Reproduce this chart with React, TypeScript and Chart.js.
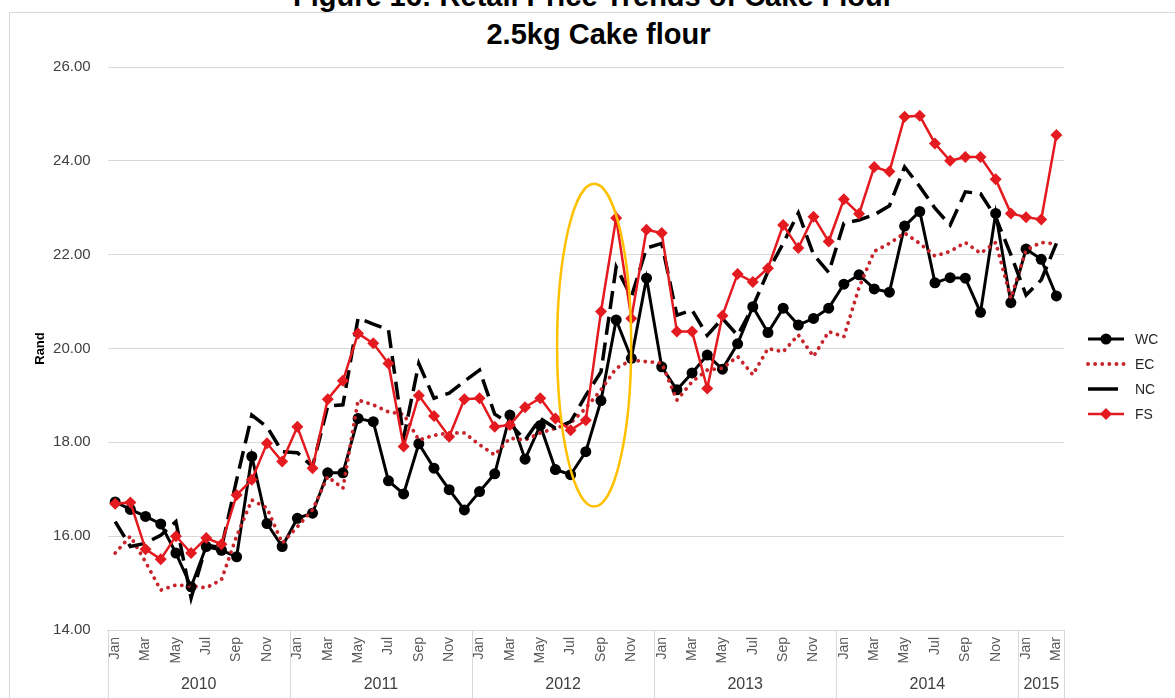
import React, { useEffect, useRef } from 'react';
import { Chart, registerables } from 'chart.js';

Chart.register(...registerables);

const FONT = '"Liberation Sans", Arial, Helvetica, sans-serif';

const FIGURE_TITLE = 'Figure 16: Retail Price Trends of Cake Flour';
const CHART_TITLE = '2.5kg Cake flour';
const Y_TITLE = 'Rand';

const MONTHS = ['Jan', 'Feb', 'Mar', 'Apr', 'May', 'Jun', 'Jul', 'Aug', 'Sep', 'Oct', 'Nov', 'Dec'];
const YEARS = ['2010', '2011', '2012', '2013', '2014', '2015'];
const MONTHS_IN_YEAR = [12, 12, 12, 12, 12, 3];

const Y_MIN = 14;
const Y_MAX = 26;
const Y_STEP = 2;

const WC = [
  16.73, 16.57, 16.42, 16.26, 15.64, 14.92, 15.78, 15.70, 15.56, 17.70, 16.27, 15.78,
  16.38, 16.49, 17.35, 17.35, 18.51, 18.44, 17.18, 16.90, 17.97, 17.45, 16.99, 16.56,
  16.95, 17.33, 18.58, 17.64, 18.36, 17.42, 17.31, 17.80, 18.89, 20.61, 19.79, 21.50,
  19.61, 19.12, 19.48, 19.86, 19.56, 20.10, 20.89, 20.34, 20.86, 20.50, 20.64, 20.86,
  21.37, 21.57, 21.27, 21.20, 22.61, 22.92, 21.40, 21.51, 21.50, 20.77, 22.88, 20.98,
  22.12, 21.90, 21.12,
];

const EC = [
  15.64, 16.00, 15.45, 14.85, 14.96, 14.94, 14.90, 15.07, 16.00, 16.77, 16.60, 15.85,
  16.20, 16.56, 17.27, 17.02, 18.90, 18.80, 18.65, 18.60, 18.05, 18.15, 18.20, 18.20,
  17.95, 17.73, 18.09, 18.05, 18.20, 18.30, 18.41, 18.73, 19.12, 19.58, 19.75, 19.72,
  19.69, 18.90, 19.29, 19.54, 19.58, 19.83, 19.44, 20.00, 19.93, 20.29, 19.83, 20.36,
  20.25, 21.30, 22.07, 22.24, 22.46, 22.24, 21.97, 22.07, 22.26, 22.03, 22.26, 21.07,
  22.10, 22.26, 22.23,
];

const NC = [
  16.31, 15.78, 15.85, 16.02, 16.31, 14.68, 15.81, 15.75, 17.20, 18.58, 18.33, 17.80,
  17.78, 17.48, 18.77, 18.80, 20.65, 20.52, 20.40, 18.10, 19.68, 18.94, 19.05, 19.30,
  19.54, 18.60, 18.40, 18.05, 18.51, 18.30, 18.44, 19.00, 19.50, 21.74, 21.10, 22.14,
  22.24, 20.71, 20.82, 20.28, 20.64, 20.28, 20.89, 21.64, 22.24, 22.89, 22.00, 21.62,
  22.67, 22.74, 22.85, 23.04, 23.87, 23.45, 22.99, 22.63, 23.34, 23.30, 22.80, 22.00,
  21.14, 21.46, 22.24,
];

const FS = [
  16.69, 16.72, 15.72, 15.51, 16.00, 15.64, 15.96, 15.83, 16.88, 17.20, 17.98, 17.59,
  18.33, 17.45, 18.92, 19.31, 20.32, 20.11, 19.68, 17.91, 19.00, 18.56, 18.12, 18.92,
  18.94, 18.33, 18.37, 18.75, 18.94, 18.51, 18.26, 18.47, 20.79, 22.78, 20.64, 22.53,
  22.46, 20.36, 20.36, 19.15, 20.70, 21.59, 21.42, 21.71, 22.63, 22.14, 22.81, 22.28,
  23.18, 22.87, 23.87, 23.77, 24.94, 24.96, 24.37, 24.00, 24.08, 24.08, 23.61, 22.88,
  22.80, 22.75, 24.55,
];

// highlight ellipse around Aug-Sep 2012 (in category index / value units)
const HIGHLIGHT_CENTER_INDEX = 31.55;
const HIGHLIGHT_CENTER_VALUE = 20.07;
const HIGHLIGHT_HALF_INDEX = 2.44;
const HIGHLIGHT_HALF_VALUE = 3.44;

const LABELS: string[] = [];
YEARS.forEach((yr, k) => {
  for (let m = 0; m < MONTHS_IN_YEAR[k]; m++) LABELS.push(MONTHS[m] + ' ' + yr);
});

const yearAxisPlugin = {
  id: 'yearAxis',
  afterDraw(chart: any) {
    const { ctx, chartArea } = chart;
    const x = chart.scales.x;
    const step = x.getPixelForValue(1) - x.getPixelForValue(0);
    const top = chartArea.bottom;
    const bottom = chart.height;
    ctx.save();
    ctx.strokeStyle = '#d9d9d9';
    ctx.lineWidth = 1;
    ctx.fillStyle = '#404040';
    ctx.font = '16px ' + FONT;
    ctx.textAlign = 'center';
    ctx.textBaseline = 'middle';
    let start = 0;
    ctx.beginPath();
    YEARS.forEach((yr, k) => {
      const n = MONTHS_IN_YEAR[k];
      const left = x.getPixelForValue(start) - step / 2;
      const right = x.getPixelForValue(start + n - 1) + step / 2;
      const lx = Math.round(left) + 0.5;
      ctx.moveTo(lx, top);
      ctx.lineTo(lx, bottom);
      if (k === YEARS.length - 1) {
        const rx = Math.round(right) + 0.5;
        ctx.moveTo(rx, top);
        ctx.lineTo(rx, bottom);
      }
      ctx.fillText(yr, (left + right) / 2, top + 55);
      start += n;
    });
    ctx.stroke();
    ctx.restore();
  },
};

const highlightPlugin = {
  id: 'highlight',
  afterDatasetsDraw(chart: any) {
    const { ctx } = chart;
    const x = chart.scales.x;
    const y = chart.scales.y;
    const step = x.getPixelForValue(1) - x.getPixelForValue(0);
    const cx = x.getPixelForValue(0) + HIGHLIGHT_CENTER_INDEX * step;
    const cy = y.getPixelForValue(HIGHLIGHT_CENTER_VALUE);
    const rx = HIGHLIGHT_HALF_INDEX * step;
    const ry = Math.abs(y.getPixelForValue(HIGHLIGHT_CENTER_VALUE + HIGHLIGHT_HALF_VALUE) - cy);
    ctx.save();
    ctx.beginPath();
    ctx.ellipse(cx, cy, rx, ry, 0, 0, Math.PI * 2);
    ctx.strokeStyle = '#FFC000';
    ctx.lineWidth = 2.5;
    ctx.stroke();
    ctx.restore();
  },
};

function drawMarker(ctx: CanvasRenderingContext2D, style: string, x: number, y: number, r: number, color: string) {
  ctx.beginPath();
  if (style === 'rectRot') {
    ctx.moveTo(x, y - r);
    ctx.lineTo(x + r, y);
    ctx.lineTo(x, y + r);
    ctx.lineTo(x - r, y);
    ctx.closePath();
  } else {
    ctx.arc(x, y, r, 0, Math.PI * 2);
  }
  ctx.fillStyle = color;
  ctx.fill();
}

const legendPlugin = {
  id: 'customLegend',
  afterDraw(chart: any) {
    const { ctx, chartArea } = chart;
    const x0 = chartArea.right + 24;
    const x1 = chartArea.right + 60;
    const tx = chartArea.right + 71;
    ctx.save();
    chart.data.datasets.forEach((ds: any, i: number) => {
      const yy = chartArea.top + 272 + i * 25;
      ctx.beginPath();
      ctx.strokeStyle = ds.borderColor;
      ctx.lineWidth = ds.borderWidth;
      ctx.lineCap = ds.borderCapStyle || 'butt';
      const dash = ds.borderDash || [];
      ctx.setLineDash(dash.length && dash[0] > 10 ? [30, 10] : dash);
      ctx.moveTo(x0, yy);
      ctx.lineTo(x1, yy);
      ctx.stroke();
      ctx.setLineDash([]);
      if (ds.pointRadius > 0) drawMarker(ctx, ds.pointStyle, (x0 + x1) / 2, yy, ds.pointRadius, ds.borderColor);
      ctx.fillStyle = '#262626';
      ctx.font = '14px ' + FONT;
      ctx.textAlign = 'left';
      ctx.textBaseline = 'middle';
      ctx.fillText(ds.label, tx, yy + 1);
    });
    ctx.restore();
  },
};

export default function App() {
  const canvasRef = useRef<HTMLCanvasElement>(null);

  useEffect(() => {
    Chart.defaults.font.family = FONT;
    const chart = new Chart(canvasRef.current as HTMLCanvasElement, {
      type: 'line',
      data: {
        labels: LABELS,
        datasets: [
          {
            label: 'WC', data: WC, borderColor: '#000000', backgroundColor: '#000000',
            borderWidth: 3, pointStyle: 'circle', pointRadius: 5.5, pointBackgroundColor: '#000000',
            pointBorderColor: '#000000', pointBorderWidth: 0, order: 4,
          },
          {
            label: 'EC', data: EC, borderColor: '#c8242b', backgroundColor: '#c8242b',
            borderWidth: 3.8, borderDash: [0.1, 7], borderCapStyle: 'round', pointRadius: 0, order: 3,
          },
          {
            label: 'NC', data: NC, borderColor: '#000000', backgroundColor: '#000000',
            borderWidth: 3.5, borderDash: [18, 8], pointRadius: 0, order: 2,
          },
          {
            label: 'FS', data: FS, borderColor: '#e31a1f', backgroundColor: '#e31a1f',
            borderWidth: 2.5, pointStyle: 'rectRot', pointRadius: 6, pointBackgroundColor: '#e31a1f',
            pointBorderColor: '#e31a1f', pointBorderWidth: 0, order: 1,
          },
        ] as any,
      },
      options: {
        animation: false,
        responsive: true,
        maintainAspectRatio: false,
        layout: { padding: { left: 0, right: 111, top: 67, bottom: 0 } },
        plugins: {
          legend: { display: false },
          tooltip: { enabled: false },
        },
        scales: {
          x: {
            type: 'category',
            offset: true,
            grid: { display: false, drawTicks: false },
            border: { display: true, color: '#d9d9d9' },
            ticks: {
              autoSkip: false,
              minRotation: 90,
              maxRotation: 90,
              padding: 7,
              color: '#595959',
              font: { size: 14, family: FONT },
              callback: (_v: any, index: number) => {
                const m = index % 12;
                return m % 2 === 0 ? MONTHS[m] : '';
              },
            },
            afterFit: (s: any) => { s.height = 68; },
          },
          y: {
            min: Y_MIN,
            max: Y_MAX,
            ticks: {
              stepSize: Y_STEP,
              padding: 17,
              color: '#404040',
              font: { size: 15, family: FONT },
              callback: (v: any) => Number(v).toFixed(2),
            },
            grid: { color: '#d9d9d9', drawTicks: false },
            border: { display: false },
            title: {
              display: true,
              text: Y_TITLE,
              color: '#000000',
              padding: { top: 33, bottom: 0 },
              font: { size: 13, weight: 'bold', family: FONT },
            },
            afterFit: (s: any) => { s.width = 107.6; },
          },
        },
      } as any,
      plugins: [yearAxisPlugin, highlightPlugin, legendPlugin],
    });
    return () => chart.destroy();
  }, []);

  return (
    <div style={{ position: 'absolute', left: 0, top: 0, width: 1175, height: 698, overflow: 'hidden', background: '#ffffff' }}>
      <div style={{ position: 'absolute', left: 9, top: 12, width: 1300, height: 800, border: '1px solid #d9d9d9' }} />
      <div style={{ position: 'absolute', left: 6, top: -18.5, width: 1175, textAlign: 'center', font: 'bold 29px ' + FONT, lineHeight: '29px', color: '#000', whiteSpace: 'nowrap' }}>
        {FIGURE_TITLE}
      </div>
      <div style={{ position: 'absolute', left: 11, top: 20, width: 1175, textAlign: 'center', font: 'bold 29px ' + FONT, lineHeight: '29px', color: '#000', whiteSpace: 'nowrap' }}>
        {CHART_TITLE}
      </div>
      <div style={{ position: 'absolute', left: 0, top: 0, width: 1175, height: 698 }}>
        <canvas ref={canvasRef} />
      </div>
    </div>
  );
}
